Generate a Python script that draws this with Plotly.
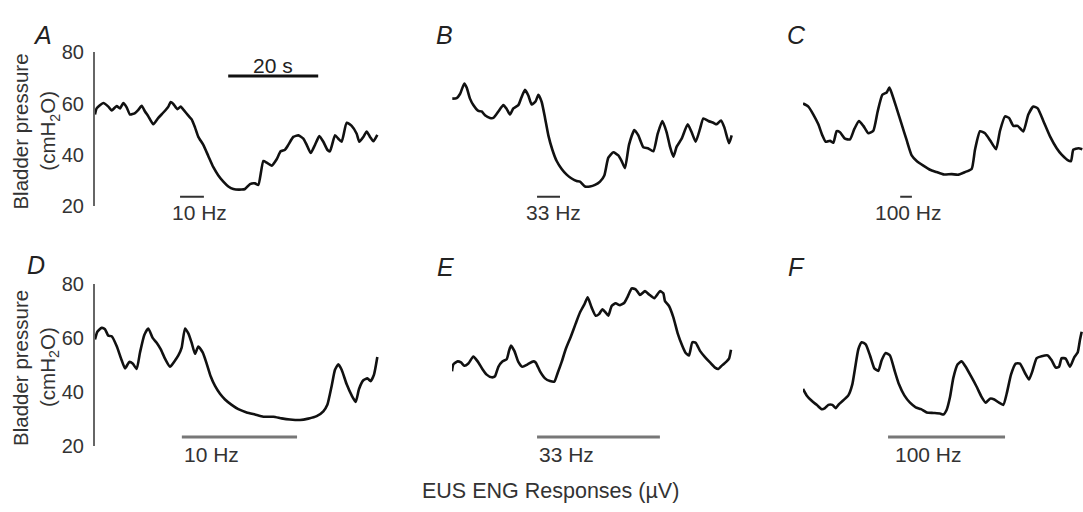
import plotly.graph_objects as go

# ---------------- data (time in s, bladder pressure in cmH2O) ----------------
t_A = [0.0, 0.37, 1.85, 2.96, 3.70, 4.81, 5.56, 6.30, 7.04, 7.78, 8.89, 9.63, 10.37, 11.11, 11.85,
       12.96, 14.07, 15.19, 16.30, 16.81, 17.41, 18.30, 19.04, 19.78, 20.74, 21.48, 22.22, 22.96,
       24.07, 25.19, 26.30, 27.41, 28.52, 29.63, 30.74, 32.59, 33.33, 34.44, 35.56, 36.30, 37.41,
       38.15, 39.26, 40.37, 41.26, 42.22, 42.96, 44.07, 45.19, 46.30, 47.04, 47.93, 48.89, 49.85,
       50.74, 51.63, 52.22, 53.33, 54.07, 54.81, 55.93, 57.04, 58.15, 58.74, 59.63, 60.37, 61.11,
       61.85, 62.74]
p_A = [55.7, 58.1, 60.2, 58.8, 57.3, 59.0, 58.1, 60.2, 58.5, 55.7, 56.3, 57.5, 59.1, 56.9, 55.0,
       51.9, 54.4, 56.5, 58.8, 60.6, 59.8, 57.8, 58.8, 57.3, 55.3, 53.8, 50.7, 47.0,
       43.9, 39.5, 35.2, 32.0, 29.6, 27.7, 26.7, 26.5, 26.7, 28.6, 28.9, 28.3, 37.6,
       37.0, 35.8, 38.3, 41.4, 42.0, 43.9, 47.0, 47.6, 46.3, 43.9, 40.7, 43.9, 47.3,
       45.1, 42.0, 41.4, 47.6, 46.3, 45.1, 52.5, 51.3, 48.2, 45.1, 47.0, 49.1, 47.0,
       45.3, 47.8]

t_B = [0.07, 1.04, 1.78, 2.74, 3.26, 4.00, 4.74, 5.85, 6.59, 7.33, 8.44, 9.19, 10.30, 11.41, 12.15,
       12.89, 13.63, 14.74, 15.33, 16.22, 16.96, 17.70, 18.59, 19.19, 19.93, 20.67, 21.41, 22.30,
       23.26, 24.37, 25.48, 26.59, 27.70, 28.44, 29.56, 30.67, 31.78, 32.89, 33.85, 34.74, 35.85,
       36.96, 37.70, 38.44, 39.33, 40.52, 41.41, 42.52, 43.63, 44.74, 45.70, 46.74, 47.70, 48.44,
       49.19, 49.93, 51.04, 52.37, 53.26, 54.15, 55.11, 55.85, 56.96, 58.07, 58.81, 59.78, 60.52,
       61.56, 62.15]
p_B = [61.9, 62.1, 63.7, 67.8, 66.2, 61.9, 59.4, 57.1, 56.9, 55.4, 54.4, 54.4, 56.9, 59.4, 57.9,
       55.7, 58.1, 59.4, 61.9, 65.3, 63.1, 59.6, 60.9, 63.4, 60.6, 54.4, 47.6, 42.0,
       37.6, 34.5, 32.3, 30.8, 29.8, 29.6, 27.7, 27.7, 28.3, 29.6, 32.0, 38.9, 41.0,
       39.8, 37.6, 34.8, 43.9, 49.7, 47.6, 43.0, 42.5, 41.4, 48.2, 53.2, 48.8, 43.2,
       39.3, 43.2, 46.3, 51.9, 48.8, 45.1, 50.1, 54.2, 53.2, 52.5, 51.9, 53.4, 50.7,
       44.5, 47.6]

t_C = [0.0, 1.19, 2.30, 3.41, 4.30, 5.04, 6.00, 6.74, 7.48, 8.22, 9.33, 10.44, 11.41, 12.44, 13.41,
       14.52, 15.63, 16.59, 17.63, 18.59, 19.19, 19.70, 20.81, 21.93, 23.04, 24.15, 25.26, 26.74,
       28.22, 29.70, 31.19, 33.04, 34.52, 36.00, 37.48, 38.22, 39.33, 40.44, 41.56, 42.89, 43.78,
       44.89, 45.78, 46.74, 47.70, 48.96, 50.07, 51.19, 52.15, 53.41, 54.89, 56.37, 57.48, 58.81,
       59.56, 60.07, 61.19, 62.07]
p_C = [60.0, 58.8, 55.7, 51.9, 47.6, 45.1, 45.5, 44.7, 49.2, 48.8, 46.3, 46.0, 50.1, 53.2, 51.3,
       48.4, 49.4, 56.9, 63.4, 64.3, 66.2, 64.1, 58.1, 51.9, 45.7, 39.8, 37.6, 35.8,
       34.2, 33.3, 32.4, 32.5, 32.3, 33.3, 34.5, 42.0, 49.2, 48.4, 45.7, 42.2, 49.4,
       55.0, 54.4, 51.3, 51.3, 49.1, 55.7, 58.8, 58.1, 53.2, 47.2, 42.6, 40.1, 38.0,
       37.6, 42.0, 42.6, 42.2]

t_D = [0.0, 0.52, 1.48, 2.22, 2.96, 3.70, 4.81, 5.93, 6.67, 7.63, 8.37, 9.26, 10.00, 10.96, 11.85,
       12.81, 13.70, 14.59, 15.56, 16.67, 17.56, 18.52, 19.26, 20.00, 20.74, 21.48, 22.22, 22.96,
       23.93, 24.81, 25.70, 26.67, 27.78, 28.89, 30.37, 31.85, 33.70, 35.56, 37.41, 39.63, 41.48,
       43.33, 45.56, 47.41, 49.26, 50.74, 51.63, 52.59, 53.33, 54.07, 54.81, 55.93, 57.04, 57.93,
       58.67, 59.63, 60.52, 61.26, 62.00, 62.74]
p_D = [59.6, 62.5, 63.9, 63.4, 61.0, 60.8, 57.2, 51.9, 48.9, 51.3, 50.7, 48.7, 54.8, 61.3, 63.7,
       60.2, 58.4, 56.0, 52.5, 49.5, 51.3, 53.7, 56.6, 63.7, 61.9, 58.4, 54.3, 57.0,
       54.8, 50.7, 46.0, 42.4, 39.5, 37.4, 35.4, 33.8, 32.6, 31.8, 31.0, 31.0, 30.4,
       30.0, 29.8, 30.3, 31.2, 33.0, 35.4, 42.4, 48.4, 50.4, 48.4, 43.0, 38.9, 36.5,
       41.3, 44.5, 45.2, 44.2, 46.6, 53.1]

t_E = [0.0, 0.30, 1.26, 2.00, 2.74, 3.63, 4.74, 5.70, 6.74, 7.70, 8.81, 9.56, 10.30, 11.19, 12.15,
       12.67, 13.11, 13.85, 14.74, 15.63, 16.81, 18.07, 18.59, 19.56, 20.67, 21.78, 22.74, 23.48,
       24.37, 25.26, 26.44, 27.48, 28.44, 29.41, 30.15, 31.04, 31.93, 32.67, 33.41, 34.15, 34.74,
       35.48, 36.37, 37.33, 38.30, 39.04, 39.93, 40.81, 41.78, 42.89, 43.78, 44.96, 46.22, 46.96,
       47.33, 48.22, 49.19, 50.15, 51.19, 51.93, 52.67, 53.41, 54.15, 55.11, 56.22, 57.33, 58.44,
       59.19, 60.07, 61.04, 61.56, 62.00]
p_E = [47.8, 50.4, 51.5, 51.1, 49.9, 50.7, 53.3, 51.5, 48.7, 46.6, 45.6, 46.0, 49.5, 51.5, 52.3,
       55.4, 57.4, 55.4, 51.3, 49.5, 50.4, 51.5, 51.1, 47.8, 45.2, 44.2, 44.0, 47.2,
       51.3, 56.0, 60.8, 65.5, 69.6, 72.6, 75.2, 71.4, 68.4, 69.0, 70.8, 69.6, 68.4,
       72.0, 73.0, 72.3, 73.2, 75.5, 78.5, 78.2, 76.1, 77.5, 76.3, 74.9, 77.5, 76.7,
       73.8, 72.0, 67.8, 61.9, 57.2, 54.6, 53.7, 58.6, 58.4, 55.4, 53.1, 51.1, 49.2,
       48.7, 50.1, 51.5, 52.5, 55.8]

t_F = [0.0, 0.81, 1.93, 3.04, 4.15, 4.89, 5.63, 6.52, 7.26, 8.00, 8.96, 10.07, 10.96, 11.56, 12.30,
       13.04, 13.93, 14.89, 15.85, 16.74, 17.48, 18.37, 19.33, 20.30, 21.33, 22.52, 23.78, 25.04,
       26.22, 27.48, 28.96, 30.44, 31.19, 31.93, 32.67, 33.41, 34.37, 35.26, 36.15, 37.33, 38.59,
       39.70, 40.59, 41.56, 42.52, 43.56, 44.52, 45.26, 46.22, 47.26, 48.22, 49.33, 50.22, 50.96,
       51.93, 53.04, 54.37, 55.26, 56.15, 56.89, 57.48, 58.37, 59.33, 60.30, 61.04, 61.56, 61.93]
p_F = [41.3, 38.9, 36.9, 35.4, 33.8, 34.2, 35.4, 35.4, 34.2, 35.7, 37.1, 38.9, 43.0, 48.9, 56.0,
       58.6, 57.8, 53.7, 48.9, 48.0, 51.9, 54.6, 53.7, 48.4, 43.0, 38.9, 36.2, 34.5,
       33.8, 32.6, 32.4, 32.2, 31.8, 33.6, 38.3, 45.4, 50.4, 51.5, 49.5, 46.0, 42.1,
       38.3, 36.2, 37.7, 37.4, 36.2, 35.4, 39.5, 46.6, 50.7, 50.7, 47.2, 44.8, 47.8,
       52.7, 53.4, 53.7, 51.9, 49.2, 49.5, 52.7, 52.5, 49.5, 53.1, 54.8, 59.6, 62.5]

panel_letters = ["A", "B", "C", "D", "E", "F"]
stim_labels = ["10 Hz", "33 Hz", "100 Hz", "10 Hz", "33 Hz", "100 Hz"]
stim_start = [18.9, 18.9, 21.6, 19.3, 18.9, 18.9]   # s
stim_end = [24.2, 24.0, 24.2, 44.9, 46.2, 44.9]     # s
scale_bar_start = 29.6   # s (panel A)
scale_bar_len = 20       # s
y_ticks = [20, 40, 60, 80]
y_title = "Bladder pressure"
y_unit = "(cmH<sub>2</sub>O)"
x_title = "EUS ENG Responses (\u00b5V)"

traces_t = [t_A, t_B, t_C, t_D, t_E, t_F]
traces_p = [p_A, p_B, p_C, p_D, p_E, p_F]

# ---------------- layout geometry (pixels) ----------------
W, H = 1083, 512
FONT = "Arial, 'Liberation Sans', Helvetica, sans-serif"
PX_PER_S = 4.5
col_px = [(95, 395), (452, 752), (803, 1083)]
row_px = [(43, 204), (285.7, 455)]
letter_px = [(42, 25), (444, 25), (796, 25), (36, 265), (445, 267), (796, 267)]
stim_y = [23.7, 23.5]
label_py = [211, 463]
label_left = [16.6, 16.0, 15.6, 19.3, 18.9, 20.0]
stim_color = ["#333333", "#777777"]
stim_width = [2, 3]

def px2x(px):
    return px / W

def py2y(py):
    return 1 - py / H

fig = go.Figure()
layout = dict(
    width=W, height=H, margin=dict(l=0, r=0, t=0, b=0),
    paper_bgcolor="white", plot_bgcolor="white", showlegend=False,
    font=dict(family=FONT, color="#222222"),
)
annotations = []

for i in range(6):
    r, c = divmod(i, 3)
    n = "" if i == 0 else str(i + 1)
    x0, x1 = col_px[c]
    y0, y1 = row_px[r]
    xr = [0, (x1 - x0) / PX_PER_S]
    layout["xaxis" + n] = dict(domain=[px2x(x0), px2x(x1)], range=xr, visible=False,
                               anchor="y" + n, fixedrange=True)
    yax = dict(domain=[py2y(y1), py2y(y0)], range=[20, 80], anchor="x" + n, fixedrange=True,
               showgrid=False, zeroline=False)
    if c == 0:
        yax.update(showline=True, linecolor="#666666", linewidth=2, tickvals=y_ticks,
                   ticks="", ticklabelstandoff=5,
                   tickfont=dict(size=20, color="#333333", family=FONT))
    else:
        yax.update(visible=False)
    layout["yaxis" + n] = yax

    xa, ya = "x" + n, "y" + n
    fig.add_trace(go.Scatter(x=traces_t[i], y=traces_p[i], mode="lines",
                             line=dict(color="#111111", width=2.6, shape="spline", smoothing=0.5),
                             xaxis=xa, yaxis=ya, hoverinfo="skip"))
    # stimulus bar
    fig.add_trace(go.Scatter(x=[stim_start[i], stim_end[i]], y=[stim_y[r], stim_y[r]], mode="lines",
                             line=dict(color=stim_color[r], width=stim_width[r]),
                             xaxis=xa, yaxis=ya, hoverinfo="skip"))
    annotations.append(dict(x=label_left[i], y=py2y(label_py[r]), xref=xa, yref="paper",
                            text=stim_labels[i], showarrow=False, xanchor="left", yanchor="middle",
                            font=dict(size=21, color="#333333", family=FONT)))
    lx, ly = letter_px[i]
    annotations.append(dict(x=px2x(lx), y=py2y(ly), xref="paper", yref="paper", text=panel_letters[i],
                            showarrow=False, xanchor="center", yanchor="middle",
                            font=dict(size=25, color="#222222", family=FONT, style="italic")))

# 20 s scale bar in panel A
fig.add_trace(go.Scatter(x=[scale_bar_start, scale_bar_start + scale_bar_len], y=[70.7, 70.7],
                         mode="lines", line=dict(color="#111111", width=3),
                         xaxis="x", yaxis="y", hoverinfo="skip"))
annotations.append(dict(x=scale_bar_start + scale_bar_len / 2, y=74.8, xref="x", yref="y",
                        text="%d s" % scale_bar_len, showarrow=False, xanchor="center",
                        yanchor="middle", font=dict(size=21, color="#222222", family=FONT)))

# y titles
for r, cy in enumerate([126, 373]):
    annotations.append(dict(x=px2x(21), y=py2y(cy), xref="paper", yref="paper", text=y_title,
                            textangle=-90, showarrow=False, xanchor="center", yanchor="middle",
                            font=dict(size=20.5, color="#333333", family=FONT)))
    annotations.append(dict(x=px2x(49), y=py2y(cy - 1), xref="paper", yref="paper", text=y_unit,
                            textangle=-90, showarrow=False, xanchor="center", yanchor="middle",
                            font=dict(size=20.5, color="#333333", family=FONT)))

annotations.append(dict(x=px2x(550), y=py2y(502), xref="paper", yref="paper", text=x_title,
                        showarrow=False, xanchor="center", yanchor="middle",
                        font=dict(size=21.5, color="#333333", family=FONT)))

layout["annotations"] = annotations
fig.update_layout(**layout)
fig.write_html("out.html")
